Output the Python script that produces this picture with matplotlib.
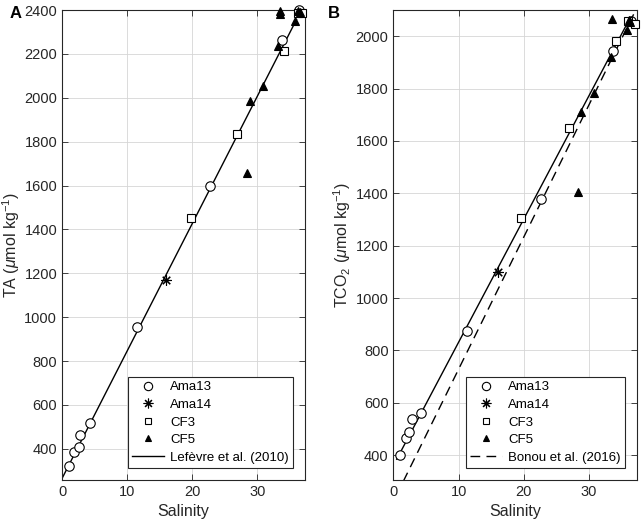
import numpy as np
import matplotlib
matplotlib.use("Agg")
import matplotlib.pyplot as plt
from matplotlib.lines import Line2D

plt.rcParams['font.family'] = ['Liberation Sans', 'DejaVu Sans']
plt.rcParams['mathtext.fontset'] = 'custom'
plt.rcParams['mathtext.rm'] = 'Liberation Sans'
plt.rcParams['mathtext.it'] = 'Liberation Sans:italic'

# ---- panel A : TA ----
ta_ama13_s = [1.07, 1.84, 2.56, 2.8, 4.3, 11.5, 22.7, 33.7, 36.4]
ta_ama13_v = [322, 385, 409, 465, 519, 955, 1600, 2262, 2398]
ta_ama14_s = [15.9]
ta_ama14_v = [1170]
ta_cf3_s = [19.8, 26.9, 34.1, 36.3, 36.9]
ta_cf3_v = [1450, 1834, 2212, 2388, 2385]
ta_cf5_s = [33.5, 33.5, 33.1, 35.8, 28.8, 30.8, 28.4, 36.2, 36.5]
ta_cf5_v = [2395, 2380, 2238, 2352, 1985, 2052, 1655, 2395, 2390]
# Lefevre et al. (2010): TA = 265 + 58.1 S
lef_s = [0, 36.0]
lef_v = [265 + 58.1 * s for s in lef_s]

# ---- panel B : TCO2 ----
dic_ama13_s = [1.0, 1.9, 2.4, 2.9, 4.3, 11.3, 22.7, 33.8, 36.5]
dic_ama13_v = [400, 467, 490, 537, 562, 873, 1378, 1944, 2058]
dic_ama14_s = [16.0]
dic_ama14_v = [1098]
dic_cf3_s = [19.6, 27.0, 34.2, 36.1, 37.1]
dic_cf3_v = [1306, 1651, 1981, 2058, 2046]
dic_cf5_s = [33.6, 28.8, 30.8, 33.4, 28.3, 35.9, 36.2, 36.4]
dic_cf5_v = [2064, 1712, 1782, 1919, 1406, 2025, 2060, 2055]
fit_s = [0.5, 36.3]
fit_v = [361 + 47.0 * s for s in fit_s]
# Bonou et al. (2016)
bon_s = [1.5, 37.4]
bon_v = [224 + 50.4 * s for s in bon_s]

txt = '#262626'
dash = (0, (7, 4.5))
fig = plt.figure(figsize=(6.44, 5.32), dpi=100)
axA = fig.add_axes([0.0963, 0.0977, 0.3773, 0.8835])
axB = fig.add_axes([0.611, 0.0977, 0.378, 0.8835])

def style(ax):
    ax.grid(True, color='#d6d6d6', linewidth=0.6)
    ax.set_axisbelow(True)
    ax.tick_params(direction='in', top=True, right=True, length=4,
                   labelsize=10.5, colors=txt, width=0.6)
    for sp in ax.spines.values():
        sp.set_color(txt)
        sp.set_linewidth(0.8)
    ax.set_xticks([0, 10, 20, 30])
    ax.set_xlabel('Salinity', fontsize=11.5, color=txt)

def points(ax, s13, v13, s14, v14, s3, v3, s5, v5):
    ax.plot(s13, v13, 'o', mfc='white', mec='k', ms=6.8, mew=0.8, clip_on=False, zorder=3)
    ax.plot(s14, v14, ls='none', marker=(8, 2, 0), mec='k', ms=7.5, mew=0.8, clip_on=False, zorder=3)
    ax.plot(s3, v3, 's', mfc='white', mec='k', ms=6, mew=0.8, clip_on=False, zorder=3)
    ax.plot(s5, v5, '^', mfc='k', mec='k', ms=5.5, mew=0.8, clip_on=False, zorder=3)

def handles(line_label, ls):
    return [
        Line2D([], [], ls='none', marker='o', mfc='white', mec='k', ms=6, mew=0.8, label='Ama13'),
        Line2D([], [], ls='none', marker=(8, 2, 0), mec='k', ms=7, mew=0.8, label='Ama14'),
        Line2D([], [], ls='none', marker='s', mfc='white', mec='k', ms=5, mew=0.8, label='CF3'),
        Line2D([], [], ls='none', marker='^', mfc='k', mec='k', ms=5, mew=0.8, label='CF5'),
        Line2D([], [], color='k', ls=ls, lw=1.0, label=line_label),
    ]

def legend(ax, label, ls):
    leg = ax.legend(handles=handles(label, ls), loc='lower right',
                    fontsize=9.5, fancybox=False, framealpha=1, edgecolor=txt,
                    handlelength=2.4, borderaxespad=0.9, labelspacing=0.4,
                    handletextpad=0.45, borderpad=0.35)
    leg.get_frame().set_linewidth(0.8)

# panel A
style(axA)
axA.plot(lef_s, lef_v, color='k', lw=1.0, zorder=2)
points(axA, ta_ama13_s, ta_ama13_v, ta_ama14_s, ta_ama14_v,
       ta_cf3_s, ta_cf3_v, ta_cf5_s, ta_cf5_v)
axA.set_xlim(0, 37.3)
axA.set_ylim(258, 2400)
axA.set_yticks(np.arange(400, 2401, 200))
axA.set_ylabel(r'TA ($\mu$mol kg$^{-1}$)', fontsize=11.5, color=txt, labelpad=2)
legend(axA, 'Lefèvre et al. (2010)', '-')

# panel B
style(axB)
axB.plot(fit_s, fit_v, color='k', lw=1.0, zorder=2)
axB.plot(bon_s, bon_v, color='k', lw=1.0, ls=dash, zorder=2)
points(axB, dic_ama13_s, dic_ama13_v, dic_ama14_s, dic_ama14_v,
       dic_cf3_s, dic_cf3_v, dic_cf5_s, dic_cf5_v)
axB.set_xlim(0, 37.4)
axB.set_ylim(305, 2100)
axB.set_yticks(np.arange(400, 2001, 200))
axB.set_ylabel(r'TCO$_2$ ($\mu$mol kg$^{-1}$)', fontsize=11.5, color=txt, labelpad=2)
legend(axB, 'Bonou et al. (2016)', dash)

fig.text(10 / 644, 1 - 14 / 532, 'A', fontsize=12, fontweight='bold', va='center')
fig.text(328 / 644, 1 - 14 / 532, 'B', fontsize=12, fontweight='bold', va='center')

fig.savefig('out.png', dpi=100)
